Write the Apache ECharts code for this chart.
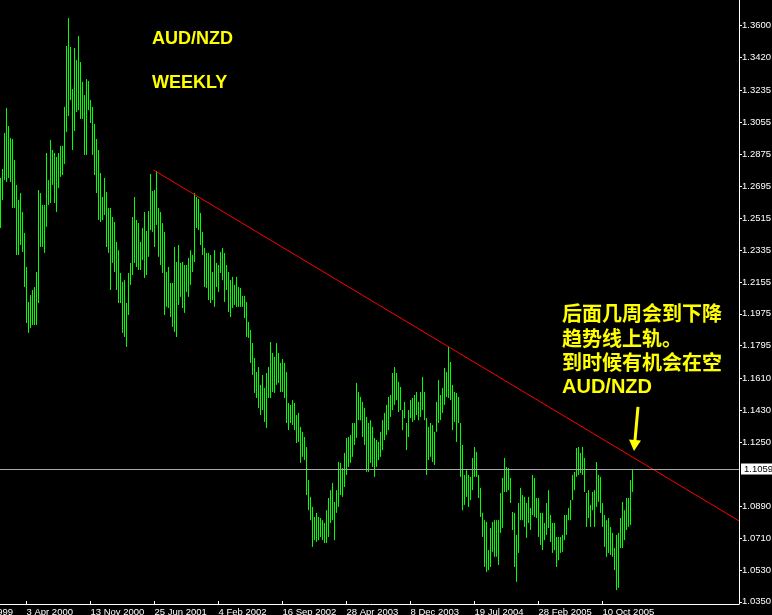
<!DOCTYPE html>
<html><head><meta charset="utf-8">
<script src="https://cdn.jsdelivr.net/npm/echarts@6/dist/echarts.min.js"></script>
<style>html,body{margin:0;padding:0;background:#000;}#c{width:772px;height:615px;}</style>
</head><body><div id="c"></div>
<script>
// Weekly AUD/NZD bars, first bar = week of 3 Jan 2000, one entry per week
const highs = [
1.2741,1.2792,1.2995,1.3136,1.3034,1.2967,1.2961,1.2842,1.2702,1.2617,
1.2656,1.2549,1.2431,1.2239,1.2042,1.2081,1.2109,1.2126,1.2211,1.2673,
1.2656,1.2589,1.2589,1.2882,1.2729,1.2955,1.2899,1.2882,1.2860,1.2882,
1.2922,1.2922,1.3142,1.3486,1.3643,1.3480,1.3243,1.3474,1.3406,1.3542,
1.3395,1.3283,1.3209,1.3299,1.3288,1.3181,1.3142,1.3046,1.2961,1.2899,
1.2769,1.2634,1.2741,1.2662,1.2572,1.2572,1.2521,1.2493,1.2380,1.2334,
1.2205,1.2155,1.2165,1.2036,1.2205,1.2262,1.2521,1.2634,1.2504,1.2487,
1.2380,1.2459,1.2549,1.2442,1.2555,1.2764,1.2668,1.2673,1.2781,1.2572,
1.2549,1.2487,1.2437,1.2211,1.2239,1.2149,1.2149,1.2352,1.2267,1.2363,
1.2262,1.2267,1.2250,1.2250,1.2290,1.2334,1.2307,1.2656,1.2634,1.2623,
1.2544,1.2437,1.2346,1.2318,1.2318,1.2307,1.2211,1.2334,1.2262,1.2250,
1.2324,1.2346,1.2318,1.2250,1.2211,1.2165,1.2183,1.2138,1.2183,1.2126,
1.2121,1.2076,1.2076,1.2042,1.1929,1.1883,1.1810,1.1726,1.1647,1.1675,
1.1574,1.1630,1.1557,1.1641,1.1675,1.1816,1.1754,1.1732,1.1810,1.1754,
1.1698,1.1720,1.1698,1.1647,1.1472,1.1461,1.1488,1.1472,1.1404,1.1416,
1.1337,1.1309,1.1280,1.1224,1.1037,1.0942,1.0886,1.0829,1.0852,1.0829,
1.0823,1.0811,1.0795,1.0867,1.0936,1.0980,1.1021,1.0914,1.0980,1.1139,
1.1134,1.1105,1.1190,1.1275,1.1280,1.1292,1.1359,1.1359,1.1585,1.1534,
1.1506,1.1478,1.1444,1.1393,1.1359,1.1375,1.1337,1.1275,1.1263,1.1252,
1.1309,1.1375,1.1416,1.1461,1.1506,1.1517,1.1641,1.1675,1.1641,1.1591,
1.1562,1.1432,1.1478,1.1359,1.1432,1.1488,1.1500,1.1517,1.1534,1.1478,
1.1534,1.1619,1.1534,1.1387,1.1337,1.1359,1.1348,1.1309,1.1478,1.1601,
1.1517,1.1557,1.1669,1.1647,1.1788,1.1703,1.1574,1.1534,1.1528,1.1506,
1.1359,1.1235,1.1066,1.1093,1.1066,1.1055,1.1162,1.1224,1.1196,1.1066,
1.0993,1.0852,1.0811,1.0801,1.0642,1.0767,1.0801,1.0811,1.0811,1.0811,
1.0964,1.1049,1.1162,1.1111,1.1105,1.1049,1.0857,1.0852,1.0728,1.0908,
1.0993,1.0953,1.0942,1.0908,1.0942,1.0880,1.1066,1.1049,1.0936,1.0936,
1.0852,1.0852,1.0795,1.0908,1.0980,1.0840,1.0795,1.0795,1.0716,1.0716,
1.0716,1.0728,1.0840,1.0840,1.0880,1.0924,1.1066,1.1083,1.1218,1.1224,
1.1190,1.1224,1.1162,1.0964,1.0980,1.0897,1.0970,1.0980,1.1139,1.1066,
1.1055,1.0908,1.0840,1.0811,1.0823,1.0773,1.0739,1.0654,1.0728,1.0739,
1.0823,1.0914,1.0867,1.0936,1.0936,1.1037,1.1100
];
const lows = [
1.2459,1.2617,1.2729,1.2719,1.2741,1.2719,1.2572,1.2572,1.2307,1.2307,
1.2363,1.2324,1.2126,1.1923,1.1867,1.1895,1.1912,1.1912,1.1912,1.2036,
1.2352,1.2352,1.2318,1.2465,1.2589,1.2600,1.2702,1.2600,1.2549,1.2685,
1.2747,1.2758,1.2820,1.3001,1.3091,1.3181,1.2899,1.3006,1.3113,1.3124,
1.3074,1.3074,1.2871,1.2871,1.3124,1.3051,1.2871,1.2758,1.2656,1.2504,
1.2493,1.2504,1.2532,1.2352,1.2318,1.2109,1.2262,1.2211,1.2109,1.2036,
1.2036,1.1867,1.1844,1.1788,1.1968,1.2138,1.2194,1.2262,1.2239,1.2222,
1.2222,1.2278,1.2177,1.2194,1.2296,1.2447,1.2437,1.2352,1.2476,1.2296,
1.2250,1.2205,1.1968,1.2014,1.2008,1.1957,1.1901,1.1873,1.1844,1.2025,
1.2070,1.2008,1.1980,1.2098,1.2070,1.2138,1.2211,1.2267,1.2459,1.2447,
1.2363,1.2307,1.2126,1.2121,1.2052,1.2036,1.2052,1.2014,1.2126,1.2098,
1.2205,1.2165,1.2042,1.2109,1.1985,1.1957,1.2008,1.2025,1.2014,1.2014,
1.2014,1.2014,1.1951,1.1844,1.1839,1.1698,1.1630,1.1528,1.1500,1.1444,
1.1404,1.1432,1.1365,1.1331,1.1500,1.1500,1.1534,1.1528,1.1574,1.1585,
1.1534,1.1534,1.1500,1.1359,1.1319,1.1359,1.1348,1.1319,1.1246,1.1252,
1.1134,1.1168,1.1150,1.0953,1.0867,1.0811,1.0660,1.0698,1.0688,1.0698,
1.0716,1.0698,1.0682,1.0682,1.0716,1.0795,1.0811,1.0698,1.0852,1.0886,
1.0953,1.0942,1.0998,1.1066,1.1111,1.1134,1.1168,1.1235,1.1275,1.1375,
1.1375,1.1280,1.1235,1.1083,1.1083,1.1134,1.1111,1.1055,1.1111,1.1150,
1.1168,1.1206,1.1263,1.1292,1.1319,1.1393,1.1432,1.1461,1.1488,1.1421,
1.1432,1.1319,1.1387,1.1206,1.1280,1.1387,1.1365,1.1375,1.1404,1.1375,
1.1393,1.1432,1.1375,1.1066,1.1150,1.1168,1.1139,1.1122,1.1309,1.1359,
1.1375,1.1416,1.1461,1.1506,1.1500,1.1488,1.1319,1.1365,1.1252,1.1359,
1.1055,1.0867,1.0897,1.0942,1.0886,1.0924,1.0980,1.1055,1.1055,1.0936,
1.0829,1.0716,1.0547,1.0519,1.0529,1.0547,1.0632,1.0604,1.0604,1.0558,
1.0739,1.0767,1.0970,1.0970,1.0980,1.0908,1.0755,1.0547,1.0463,1.0626,
1.0811,1.0811,1.0773,1.0711,1.0795,1.0755,1.0840,1.0829,1.0823,1.0716,
1.0671,1.0642,1.0698,1.0728,1.0767,1.0688,1.0626,1.0642,1.0547,1.0585,
1.0626,1.0632,1.0698,1.0728,1.0811,1.0811,1.0924,1.0980,1.1055,1.1066,
1.1077,1.1066,1.0970,1.0773,1.0823,1.0773,1.0867,1.0773,1.0886,1.0914,
1.0852,1.0773,1.0660,1.0604,1.0626,1.0615,1.0604,1.0529,1.0416,1.0429,
1.0654,1.0654,1.0698,1.0755,1.0773,1.0784,1.0970
];
// time scale: bar index of labelled weeks
const tickIdx = [13,45,77,109,141,173,205,237,269,301];
const tickLabels = ['3 Apr 2000','13 Nov 2000','25 Jun 2001','4 Feb 2002','16 Sep 2002','28 Apr 2003','8 Dec 2003','19 Jul 2004','28 Feb 2005','10 Oct 2005'];
const priorLabel = '23 Aug 1999';
// price scale
const priceTicks = [1.0350,1.0530,1.0710,1.0890,1.1250,1.1430,1.1610,1.1795,1.1975,1.2155,1.2335,1.2515,1.2695,1.2875,1.3055,1.3235,1.3420,1.3600];
const lastPrice = 1.1059;
// trend line (bar index, price)
const trendStart = [76.5, 1.2786];
const trendEnd = [369.25, 1.0807];
// annotation arrow (bar index, price)
const arrowFrom = [318.75, 1.1450];
const arrowTo = [317, 1.1232];
const noteLines = ['后面几周会到下降','趋势线上轨。','到时候有机会在空','AUD/NZD'];

const chart = echarts.init(document.getElementById('c'), null, {renderer:'canvas'});
const barData = highs.map((h,i)=>[i,h,lows[i]]);
const axisFont = 'Liberation Sans';

chart.setOption({
  backgroundColor:'#000000',
  animation:false,
  grid:{left:0,right:33,top:0,bottom:11,containLabel:false,outerBoundsMode:'none'},
  xAxis:{
    type:'value', min:-0.25, max:369.25, position:'bottom',
    axisLine:{show:true,onZero:false,lineStyle:{color:'#ffffff',width:1}},
    axisTick:{show:true,customValues:tickIdx,length:3,inside:true,lineStyle:{color:'#ffffff'}},
    axisLabel:{show:true,customValues:tickIdx,formatter:v=>{const k=tickIdx.indexOf(v);return k>=0?tickLabels[k]:'';},
      color:'#ffffff',fontFamily:axisFont,fontSize:9.5,align:'left',margin:3},
    splitLine:{show:false}
  },
  yAxis:{
    type:'value', position:'right', min:1.0338, max:1.3745,
    axisLine:{show:true,onZero:false,lineStyle:{color:'#ffffff',width:1}},
    axisTick:{show:true,customValues:priceTicks,length:3,inside:false,lineStyle:{color:'#ffffff'}},
    axisLabel:{show:true,customValues:priceTicks,formatter:v=>v.toFixed(4),color:'#ffffff',fontFamily:axisFont,fontSize:9.5,margin:3},
    splitLine:{show:false}
  },
  series:[
    {
      type:'custom', name:'AUDNZD', data:barData, encode:{x:0,y:[1,2]}, silent:true,
      renderItem:(params,api)=>{
        const p1 = api.coord([api.value(0),api.value(1)]);
        const p2 = api.coord([api.value(0),api.value(2)]);
        return {type:'line',shape:{x1:p1[0],y1:p1[1],x2:p2[0],y2:p2[1]},style:{stroke:'#00ff00',lineWidth:1}};
      }
    },
    {
      type:'line', name:'trend', data:[trendStart,trendEnd], symbol:'none', silent:true,
      lineStyle:{color:'#ff0000',width:1}, z:3,
      markLine:{
        silent:true, symbol:'none', animation:false,
        data:[
          {yAxis:lastPrice, lineStyle:{color:'#a8a8b0',width:1,type:'solid'},
           label:{show:true,position:'end',formatter:lastPrice.toFixed(4),color:'#000000',backgroundColor:'#ffffff',
                  padding:[1,3,0,3],fontFamily:axisFont,fontSize:9.5,distance:2}},
          [{coord:arrowFrom,symbol:'none',lineStyle:{color:'#ffff00',width:3,type:'solid'},label:{show:false}},
           {coord:arrowTo,symbol:'triangle',symbolSize:[12,11]}]
        ]
      }
    }
  ],
  graphic:[
    {type:'text',x:152,y:39,style:{text:'AUD/NZD',fill:'#ffff00',font:'bold 18px "Liberation Sans"',verticalAlign:'middle'}},
    {type:'text',x:152,y:83,style:{text:'WEEKLY',fill:'#ffff00',font:'bold 18px "Liberation Sans"',verticalAlign:'middle'}},
    {type:'text',x:562,y:313,style:{text:noteLines[0],fill:'#ffff00',font:'bold 20px "Noto Sans CJK SC"',verticalAlign:'middle'}},
    {type:'text',x:562,y:338,style:{text:noteLines[1],fill:'#ffff00',font:'bold 20px "Noto Sans CJK SC"',verticalAlign:'middle'}},
    {type:'text',x:562,y:362,style:{text:noteLines[2],fill:'#ffff00',font:'bold 20px "Noto Sans CJK SC"',verticalAlign:'middle'}},
    {type:'text',x:562,y:387,style:{text:noteLines[3],fill:'#ffff00',font:'bold 20px "Liberation Sans"',verticalAlign:'middle'}},
    {type:'text',x:13,y:612,style:{text:priorLabel,fill:'#ffffff',font:'9.5px "Liberation Sans"',align:'right',verticalAlign:'middle'}}
  ]
});
</script>
</body></html>
